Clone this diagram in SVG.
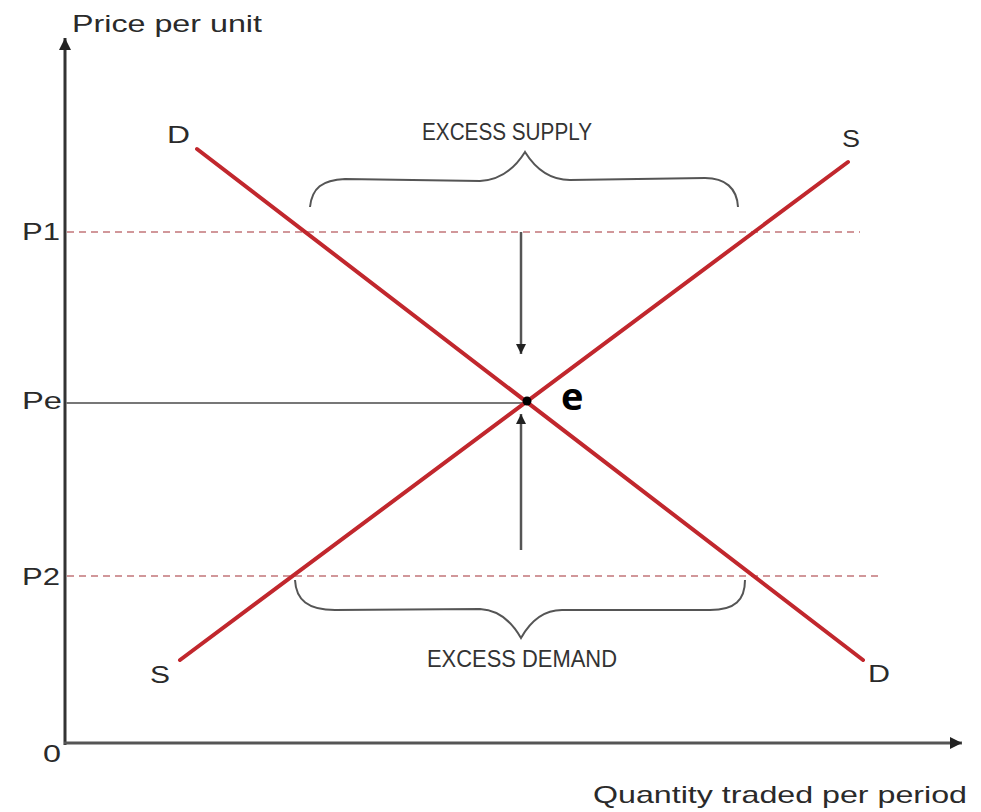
<svg xmlns="http://www.w3.org/2000/svg" width="981" height="812" viewBox="0 0 981 812">
<defs>
<style>
.lbl{font-family:"Liberation Sans",Arial,sans-serif;font-size:24px;fill:#2a2a2a}
.cap{font-family:"Liberation Sans",Arial,sans-serif;font-size:24px;fill:#333}
.curve{stroke:#c1272d;stroke-width:4;fill:none;stroke-linecap:round}
.dash{stroke:#c27679;stroke-width:1.6;stroke-dasharray:7,5;fill:none}
.brace{stroke:#555;stroke-width:2;fill:none}
.arrow{stroke:#555;stroke-width:2.5;fill:none}
</style>
<marker id="ah" viewBox="0 0 10 10" refX="10" refY="5" markerWidth="10" markerHeight="10" markerUnits="userSpaceOnUse" orient="auto">
<path d="M0,0 L10,5 L0,10 Z" fill="#222"/>
</marker>
<marker id="axh" viewBox="0 0 10 10" refX="10" refY="5" markerWidth="14" markerHeight="12" markerUnits="userSpaceOnUse" orient="auto">
<path d="M0,0 L10,5 L0,10 Z" fill="#222"/>
</marker>
</defs>
<rect width="981" height="812" fill="#fff"/>

<g id="axes">
<line x1="65" y1="745" x2="65" y2="38" stroke="#333" stroke-width="3" marker-end="url(#axh)"/>
<line x1="64" y1="743" x2="962" y2="743" stroke="#555" stroke-width="3" marker-end="url(#axh)"/>
</g>

<g id="guides">
<line class="dash" x1="67" y1="232" x2="860" y2="232"/>
<line class="dash" x1="67" y1="576" x2="880" y2="576"/>
<line x1="66" y1="403" x2="527" y2="403" stroke="#777" stroke-width="2"/>
</g>

<g id="demand-curve">
<line class="curve" x1="197" y1="149" x2="863" y2="660"/>
</g>
<g id="supply-curve">
<line class="curve" x1="180" y1="660" x2="848" y2="162"/>
</g>

<g id="connectors">
<path class="brace" d="M310,207 C312,188 322,180 345,179 L480,181 C500,180 515,168 525,152 C535,168 550,180 570,180 L705,178 C725,178 737,188 738,207"/>
<path class="brace" d="M295,580 C296,600 308,610 335,610 L480,609 C500,610 512,622 521,638 C530,622 542,610 562,610 L710,610 C735,610 745,600 745,580"/>
<line class="arrow" x1="521" y1="232" x2="521" y2="354" marker-end="url(#ah)"/>
<line class="arrow" x1="521" y1="550" x2="521" y2="414" marker-end="url(#ah)"/>
</g>

<g id="equilibrium">
<circle cx="527" cy="401" r="4.5" fill="#000"/>
<text x="561" y="410" font-family="'Open Sans','DejaVu Sans',sans-serif" font-weight="bold" font-size="38" fill="#000">e</text>
</g>

<g id="labels">
<text class="lbl" x="72" y="32" textLength="190" lengthAdjust="spacingAndGlyphs">Price per unit</text>
<text class="lbl" x="593" y="803" textLength="374" lengthAdjust="spacingAndGlyphs">Quantity traded per period</text>
<text class="lbl" x="22" y="240" textLength="38" lengthAdjust="spacingAndGlyphs">P1</text>
<text class="lbl" x="22" y="409" textLength="40" lengthAdjust="spacingAndGlyphs">Pe</text>
<text class="lbl" x="22" y="585" textLength="38" lengthAdjust="spacingAndGlyphs">P2</text>
<text class="lbl" x="43" y="762" textLength="18" lengthAdjust="spacingAndGlyphs">0</text>
<text class="lbl" x="167" y="143" textLength="23" lengthAdjust="spacingAndGlyphs">D</text>
<text class="lbl" x="842" y="147" textLength="18" lengthAdjust="spacingAndGlyphs">S</text>
<text class="lbl" x="150" y="683" textLength="20" lengthAdjust="spacingAndGlyphs">S</text>
<text class="lbl" x="868" y="682" textLength="22" lengthAdjust="spacingAndGlyphs">D</text>
<text class="cap" x="422" y="140" textLength="170" lengthAdjust="spacingAndGlyphs">EXCESS SUPPLY</text>
<text class="cap" x="427" y="667" textLength="190" lengthAdjust="spacingAndGlyphs">EXCESS DEMAND</text>
</g>
</svg>
